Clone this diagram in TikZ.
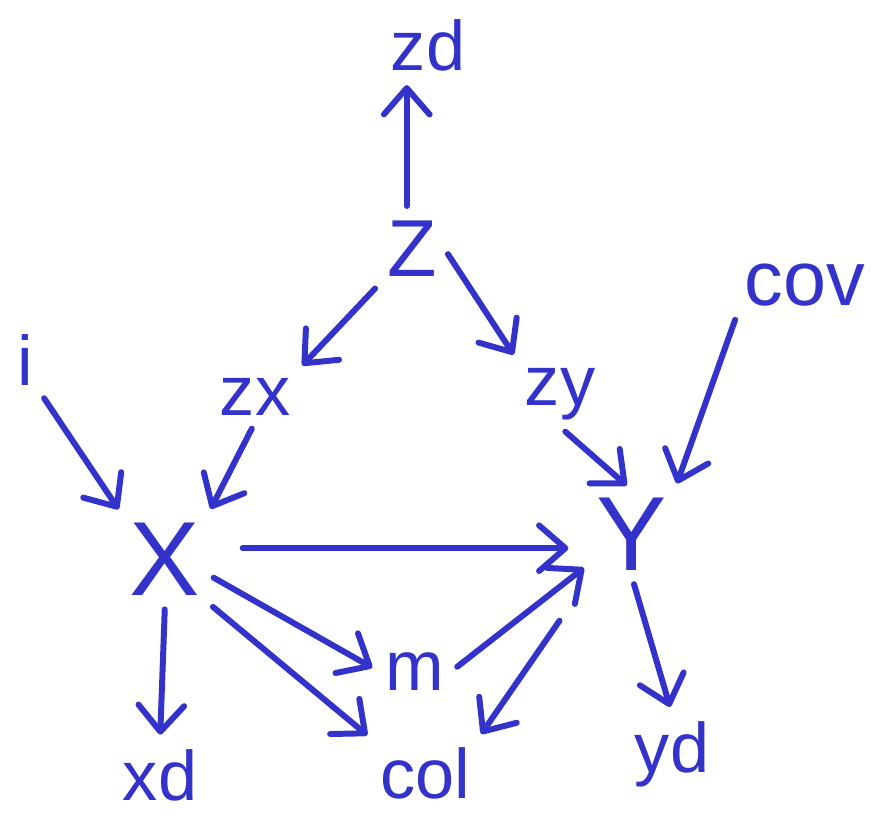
\documentclass[tikz,border=0pt]{standalone}
\usepackage{fontspec}
\setmainfont{Liberation Sans}
\usetikzlibrary{arrows.meta}
\definecolor{ink}{RGB}{51,51,204}
\begin{document}
\begin{tikzpicture}[x=0.02cm,y=-0.02cm,
  lab/.style={text=ink,anchor=base,inner sep=4pt,font=\fontsize{40}{44}\selectfont},
  biglab/.style={text=ink,anchor=base,inner sep=4pt,font=\fontsize{60}{64}\selectfont},
  arr/.style={draw=ink,line width=3.4pt,line cap=round,line join=round,
    -{Straight Barb[length=15pt,width=26pt,round]},shorten <=4pt,shorten >=4pt}]
\useasboundingbox (0,0) rectangle (872,819);
\node[lab] (zd) at (428,70) {zd};
\node[biglab,font=\fontsize{46}{50}\selectfont] (Z) at (412,276) {Z};
\node[lab] (zx) at (255,415) {zx};
\node[lab] (zy) at (560,405) {zy};
\node[lab] (i) at (25,385) {i};
\node[lab,font=\fontsize{44}{48}\selectfont] (cov) at (805,305) {cov};
\node[biglab] (X) at (165,595) {X};
\node[biglab] (Y) at (632,570) {Y};
\node[lab] (m) at (415,690) {m};
\node[lab] (xd) at (160,800) {xd};
\node[lab] (col) at (425,798) {col};
\node[lab] (yd) at (672,772) {yd};
\draw[arr] ([xshift=-3pt]Z.north) -- ([xshift=-3pt]Z.north |- zd.south);
\draw[arr] (Z.south west) -- (zx.north east);
\draw[arr] (Z.east) -- (zy.north west);
\draw[arr] (i.south east) -- (X.north west);
\draw[arr] (zx.south) -- (X.north east);
\draw[arr] (zy.south) -- (Y.north);
\draw[arr] (cov.south west) -- (Y.north east);
\draw[arr,shorten <=20pt,shorten >=12pt] ([yshift=6pt]X.east) -- ([yshift=6pt]X.east -| Y.west);
\draw[arr] (X.-20) -- (m.west);
\draw[arr] (X.south east) -- (col.north west);
\draw[arr] (m.east) -- (Y.215);
\draw[arr,shorten <=30pt] (Y.south west) -- (col.north east);
\draw[arr] (Y.south) -- (yd.north);
\draw[arr] (X.south) -- (xd.north);
\end{tikzpicture}
\end{document}
